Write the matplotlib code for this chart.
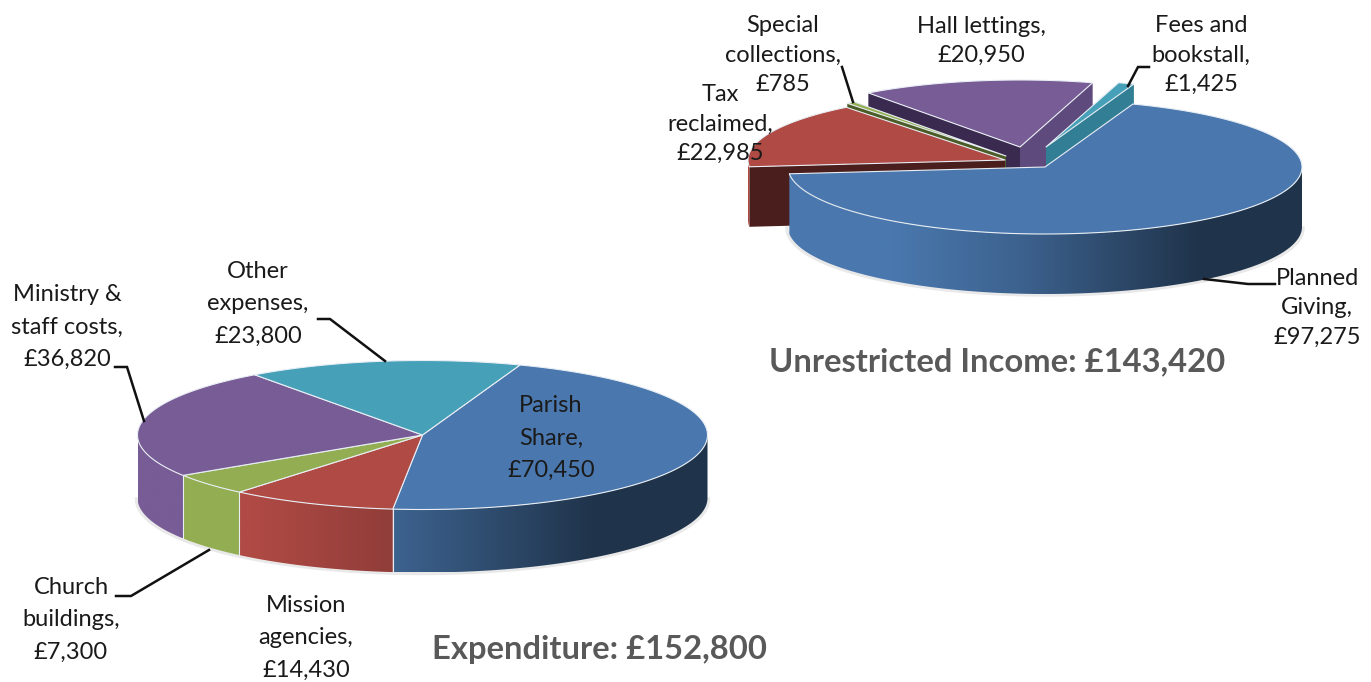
import numpy as np
import matplotlib
matplotlib.use("Agg")
import matplotlib.pyplot as plt
from matplotlib.patches import Polygon

plt.rcParams['font.family'] = ['Lato', 'DejaVu Sans']

# ---- data
exp_names = ["Parish\nShare,", "Mission\nagencies,", "Church\nbuildings,", "Ministry &\nstaff costs,", "Other\nexpenses,"]
exp_values = [70450, 14430, 7300, 36820, 23800]
inc_names = ["Planned\nGiving,", "Tax\nreclaimed,", "Special\ncollections,", "Hall lettings,", "Fees and\nbookstall,"]
inc_values = [97275, 22985, 785, 20950, 1425]
exp_title = "Expenditure: £152,800"
inc_title = "Unrestricted Income: £143,420"

# ---- styles
BLUE, RED, GREEN, PURPLE, TEAL = "#4a78ae", "#b04a45", "#93ae52", "#785c96", "#45a0b8"
exp_colors = [BLUE, RED, GREEN, PURPLE, TEAL]
inc_colors = [BLUE, RED, GREEN, PURPLE, TEAL]
inc_centres = [(1045, 167), (1005, 160), (1006, 156), (1020, 147), (1046, 147)]
# cut-face colours (first radial clockwise, last radial clockwise)
inc_faces = [("#2a4668", "#2a4668"), ("#4a1e1c", "#4a1e1c"), ("#4b5c26", "#4b5c26"),
             ("#3b2a50", "#5e4a7c"), ("#327e94", "#327e94")]

fig = plt.figure(figsize=(13.71, 6.82), dpi=100)
ax = fig.add_axes([0, 0, 1, 1])
ax.set_xlim(0, 1371)
ax.set_ylim(682, 0)
ax.axis("off")


def rgb(c):
    return np.array(matplotlib.colors.to_rgb(c))


def shade(u):
    return np.interp(u, [0, .2, .45, .8, 1], [1, 1, .82, .43, .43])


def edge_pts(c, rx, ry, a0, a1, n=None):
    n = n or max(2, int(abs(a1 - a0)) * 2)
    t = np.radians(np.linspace(a0, a1, n))
    return c[0] + rx * np.cos(t), c[1] - ry * np.sin(t)


def face(c, rx, ry, a, depth, color, z):
    x, y = edge_pts(c, rx, ry, a, a, 2)
    ax.fill([c[0], x[0], x[0], c[0]], [c[1], y[0], y[0] + depth, c[1] + depth],
            color=color, lw=0, zorder=z)


def wall(c, rx, ry, a0, a1, depth, color, z, cx0, rx0):
    # front part of the rim only (sin t < 0), filled with a left-to-right gradient
    lo, hi = min(a0, a1), max(a0, a1)
    base = rgb(color)
    for k in range(-2, 2):
        s, e = max(lo, 180 + 360 * k), min(hi, 360 + 360 * k)
        if e <= s:
            continue
        xs, ys = edge_pts(c, rx, ry, s, e, max(4, int(e - s) * 2))
        verts = np.c_[np.r_[xs, xs[::-1]], np.r_[ys, ys[::-1] + depth]]
        x0, x1 = xs.min(), xs.max()
        y0, y1 = verts[:, 1].min(), verts[:, 1].max()
        col_x = np.linspace(x0, x1, 256)
        u = (col_x - (cx0 - rx0)) / (2 * rx0)
        img = (base[None, None, :] * shade(u)[None, :, None]).clip(0, 1)
        im = ax.imshow(img, extent=(x0, x1, y1, y0), aspect="auto", zorder=z,
                       interpolation="bilinear")
        im.set_clip_path(Polygon(verts, closed=True, transform=ax.transData))


def top(c, rx, ry, a0, a1, color, z):
    x, y = edge_pts(c, rx, ry, a0, a1)
    ax.fill(np.r_[c[0], x], np.r_[c[1], y], fc=color, ec="#e8eef4", lw=0.8,
            joinstyle="round", zorder=z)


def shadow(c, rx, ry, depth):
    x, y = edge_pts(c, rx + 1, ry, 180, 360, 200)
    ax.plot(x, y + depth + 1, color="#cfcfcf", lw=2.5, alpha=.45, zorder=1)


def angles(values, start):
    total = sum(values)
    out, a = [], start
    for v in values:
        b = a - 360 * v / total
        out.append((a, b))
        a = b
    return out


# ---- expenditure pie
c = (422.5, 435)
rx, ry, d = 285, 74.5, 63
shadow(c, rx, ry, d)
exp_ang = angles(exp_values, 70)
for (a0, a1), col in zip(exp_ang, exp_colors):
    wall(c, rx, ry, a0, a1, d, col, 2, c[0], rx)
for (a0, a1) in exp_ang:
    if np.sin(np.radians(a0)) < 0:
        x, y = edge_pts(c, rx, ry, a0, a0, 2)
        ax.plot([x[0], x[0]], [y[0], y[0] + d], color="#e8eef4", lw=.8, zorder=3)
for (a0, a1), col in zip(exp_ang, exp_colors):
    top(c, rx, ry, a0, a1, col, 4)

# ---- income pie
rx2, ry2, d2 = 257, 67, 60
c2 = inc_centres[0]
shadow(c2, rx2, ry2, d2)
inc_ang = angles(inc_values, 70)
z = 5
for i in [3, 4, 2, 1, 0]:
    a0, a1 = inc_ang[i]
    cc = inc_centres[i]
    if i > 0:
        face(cc, rx2, ry2, a0, d2, inc_faces[i][0], z)
        face(cc, rx2, ry2, a1, d2, inc_faces[i][1], z)
    wall(cc, rx2, ry2, a0, a1, d2, inc_colors[i], z + 1, c2[0], rx2)
    top(cc, rx2, ry2, a0, a1, inc_colors[i], z + 2)
    z += 3

ax.set_xlim(0, 1371)
ax.set_ylim(682, 0)

# ---- leader lines
leaders = [
    ([318, 330, 385], [319, 319, 361]),
    ([115, 127, 144], [367, 367, 421]),
    ([116, 131, 209], [596, 596, 550]),
    ([842, 853], [67, 102]),
    ([1149, 1138, 1128], [67, 67, 86]),
    ([1275, 1248, 1204], [284, 284, 279]),
]
for lx, ly in leaders:
    ax.plot(lx, ly, color="#111111", lw=1.8, zorder=30, solid_joinstyle="miter")

# ---- labels
FS = 17
TC = "#1a1a1a"


def label(name, value, x, y, ls):
    ax.text(x, y, f"{name}\n£{value:,}", ha="center", va="center", fontsize=FS,
            color=TC, linespacing=ls, zorder=40)


label(exp_names[0], exp_values[0], 551, 438, 1.66)
label(exp_names[1], exp_values[1], 306, 638, 1.66)
label(exp_names[2], exp_values[2], 71, 620, 1.66)
label(exp_names[3], exp_values[3], 67, 327, 1.66)
label(exp_names[4], exp_values[4], 258, 304, 1.66)
label(inc_names[0], inc_values[0], 1317, 308, 1.5)
label(inc_names[1], inc_values[1], 720, 124, 1.5)
label(inc_names[2], inc_values[2], 783, 55, 1.5)
label(inc_names[3], inc_values[3], 981, 41, 1.5)
label(inc_names[4], inc_values[4], 1201, 55, 1.5)

ax.text(599, 649, exp_title, ha="center", va="center", fontsize=23.6, fontweight="bold",
        color="#595959", zorder=40)
ax.text(997, 362, inc_title, ha="center", va="center", fontsize=23.6, fontweight="bold",
        color="#595959", zorder=40)

fig.savefig("out.png", dpi=100)
